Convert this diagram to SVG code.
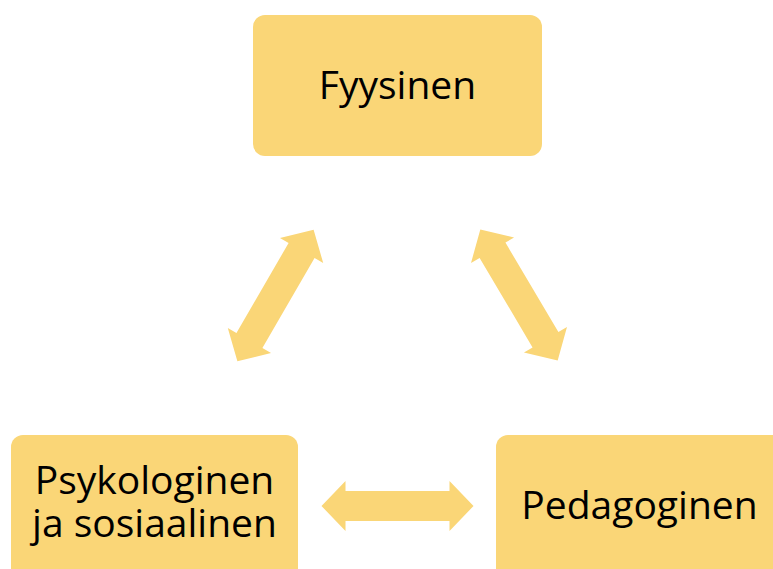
<svg xmlns="http://www.w3.org/2000/svg" xmlns:xlink="http://www.w3.org/1999/xlink" width="773" height="569" viewBox="0 0 773 569">
  <style>
    .box { fill: #FAD677; }
    .arrow { fill: #FAD677; }
    .label { font-family: "Open Sans", "Liberation Sans", sans-serif; font-size: 39px; fill: #000000; text-anchor: middle; }
  </style>
  <defs>
    <path id="dbl" d="M -76 0 L -52 -25 L -52 -15 L 52 -15 L 52 -25 L 76 0 L 52 25 L 52 15 L -52 15 L -52 25 Z"/>
  </defs>
  <rect width="773" height="569" fill="#FFFFFF"/>
  <g id="connectors">
    <use xlink:href="#dbl" class="arrow" transform="translate(275.5,295.5) rotate(-59.9)"/>
    <use xlink:href="#dbl" class="arrow" transform="translate(519,295) rotate(59.4)"/>
    <use xlink:href="#dbl" class="arrow" transform="translate(397.5,506)"/>
  </g>
  <g id="fyysinen">
    <rect class="box" x="253" y="15" width="289" height="141" rx="12"/>
    <text class="label" x="397.5" y="99">Fyysinen</text>
  </g>
  <g id="psykologinen">
    <rect class="box" x="11" y="435" width="287" height="160" rx="12"/>
    <text class="label"><tspan x="154.5" y="494">Psykologinen</tspan><tspan x="154.5" y="537">ja sosiaalinen</tspan></text>
  </g>
  <g id="pedagoginen">
    <rect class="box" x="496" y="435" width="300" height="160" rx="12"/>
    <text class="label" x="639.5" y="519">Pedagoginen</text>
  </g>
</svg>
